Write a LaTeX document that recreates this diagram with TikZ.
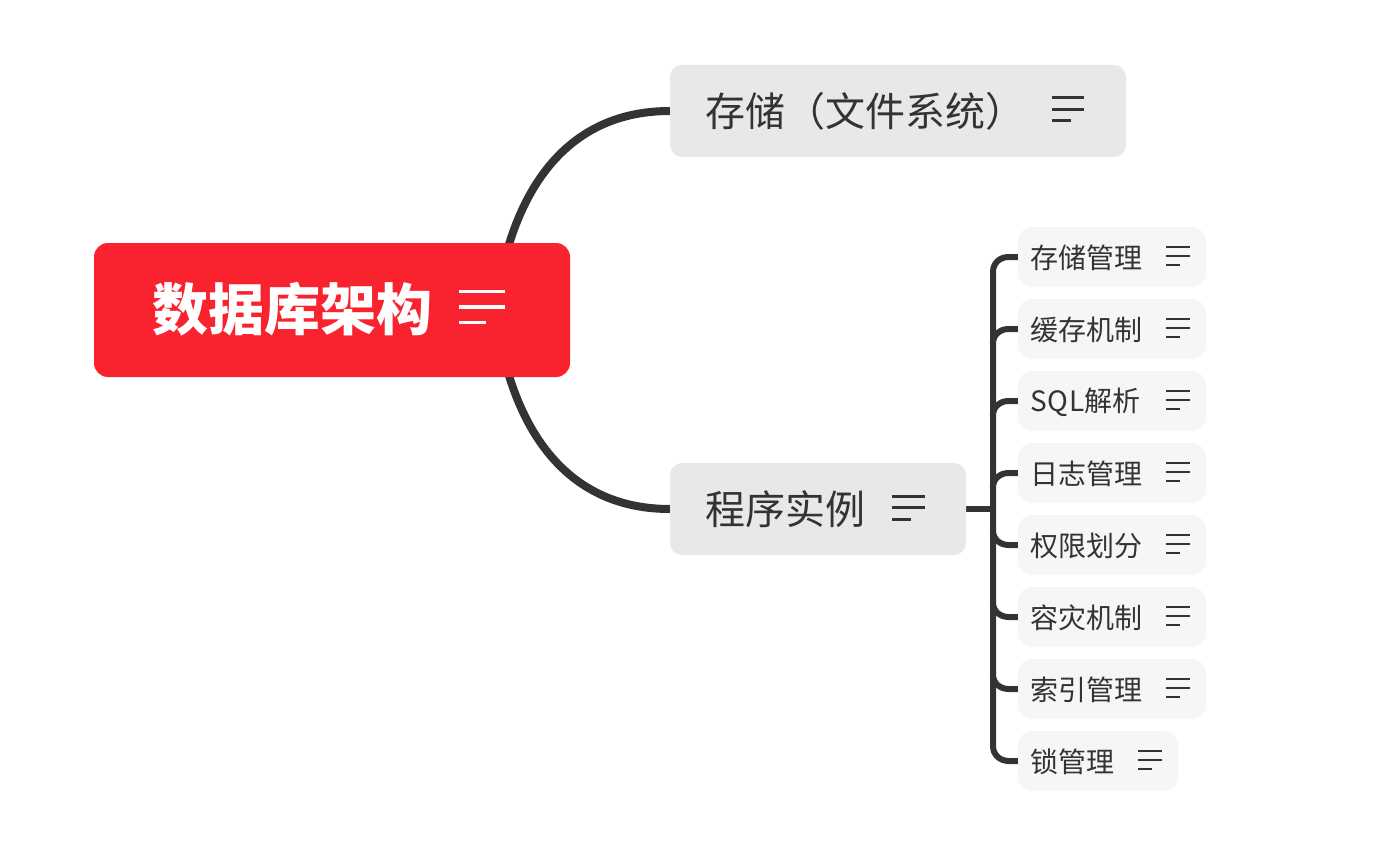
\documentclass[tikz,border=0pt]{standalone}
\usepackage{fontspec}
\setmainfont{Noto Sans CJK SC}
\definecolor{rootred}{HTML}{F9222F}
\definecolor{inkdark}{HTML}{333333}
\definecolor{midgrey}{HTML}{E8E8E8}
\definecolor{lightgrey}{HTML}{F6F6F6}
\newcommand{\menuicon}[7]{%
  \draw[#6,line width=#7] (#1,#2-#5) -- +(#3,0);
  \draw[#6,line width=#7] (#1,#2) -- +(#3,0);
  \draw[#6,line width=#7] (#1,#2+#5) -- +(#4,0);
}
\tikzset{
  rootbox/.style={fill=rootred,rounded corners=14pt,minimum height=134pt,inner sep=0pt},
  midbox/.style={fill=midgrey,rounded corners=12pt,minimum height=92pt,inner sep=0pt},
  leafbox/.style={fill=lightgrey,rounded corners=14pt,minimum height=60pt,inner sep=0pt},
  roottext/.style={anchor=west,inner sep=0pt,text=white,font=\fontsize{56}{60}\selectfont\bfseries},
  midtext/.style={anchor=west,inner sep=0pt,text=inkdark,font=\fontsize{40}{44}\selectfont},
  leaftext/.style={anchor=west,inner sep=0pt,text=inkdark,font=\fontsize{28}{32}\selectfont},
  thick link/.style={draw=inkdark,line width=8pt},
  thin link/.style={draw=inkdark,line width=6pt},
}
\begin{document}
\begin{tikzpicture}[x=1pt,y=-1pt]
\useasboundingbox (0,0) rectangle (1397,853);
\coordinate (hub) at (495,310);
\coordinate (trunk) at (993,509);
\path (332,310) node[minimum width=476pt,minimum height=134pt,inner sep=0pt] (root) {};
\path (898,111) node[minimum width=456pt,minimum height=92pt,inner sep=0pt] (store) {};
\path (818,509) node[minimum width=296pt,minimum height=92pt,inner sep=0pt] (inst) {};
\foreach \n/\y/\w in {l1/257/188,l2/329/188,l3/401/188,l4/473/188,l5/545/188,l6/617/188,l7/689/188,l8/761/160}{
  \path (1018+\w/2,\y) node[minimum width=\w pt,minimum height=60pt,inner sep=0pt] (\n) {};
}
% connectors
\draw[thick link] (hub) .. controls (512,182) and (572,111) .. (store.west);
\draw[thick link] (hub) .. controls (512,438) and (572,509) .. (inst.west);
\draw[thin link] (inst.east) -- (trunk);
\draw[thin link] (l1.west) -- ++(-9,0) .. controls +(-9,0) and (993,263) .. (993,272) -- (993,746) .. controls (993,755) and (1000,761) .. (1009,761) -- (l8.west);
\foreach \n in {l2,l3,l4}{
  \draw[thin link] (\n.west) -- ++(-9,0) .. controls +(-9,0) and +(0,-9) .. ++(-16,15);
}
\foreach \n in {l5,l6,l7}{
  \draw[thin link] (\n.west) -- ++(-9,0) .. controls +(-9,0) and +(0,9) .. ++(-16,-15);
}
% boxes
\node[rootbox,minimum width=476pt] (rootbg) at (root) {};
\node[midbox,minimum width=456pt] (storebg) at (store) {};
\node[midbox,minimum width=296pt] (instbg) at (inst) {};
\foreach \n/\w in {l1/188,l2/188,l3/188,l4/188,l5/188,l6/188,l7/188,l8/160}{
  \node[leafbox,minimum width=\w pt] (\n bg) at (\n) {};
}
% texts
\node[roottext] (roott) at (152,309) {数据库架构};
\node[midtext] (storet) at (705,111) {存储（文件系统）};
\node[midtext] (instt) at (705,509) {程序实例};
\node[leaftext] (t1) at (1030,258) {存储管理};
\node[leaftext] (t2) at (1030,330) {缓存机制};
\node[leaftext] (t3) at (1030,402) {{\addfontfeature{LetterSpace=3.5}SQL}解析};
\node[leaftext] (t4) at (1030,474) {日志管理};
\node[leaftext] (t5) at (1030,546) {权限划分};
\node[leaftext] (t6) at (1030,618) {容灾机制};
\node[leaftext] (t7) at (1030,690) {索引管理};
\node[leaftext] (t8) at (1030,762) {锁管理};
% icons
\menuicon{459}{307}{46}{27}{15.5}{white}{3.5pt}
\menuicon{1052}{109.5}{32}{19}{11.5}{inkdark}{3pt}
\menuicon{892}{507.5}{33}{19}{11.5}{inkdark}{3pt}
\foreach \y in {256,328,400,472,544,616,688}{
  \menuicon{1166}{\y}{24}{14}{9}{inkdark}{2pt}
}
\menuicon{1138}{760}{24}{14}{9}{inkdark}{2pt}
\end{tikzpicture}
\end{document}
